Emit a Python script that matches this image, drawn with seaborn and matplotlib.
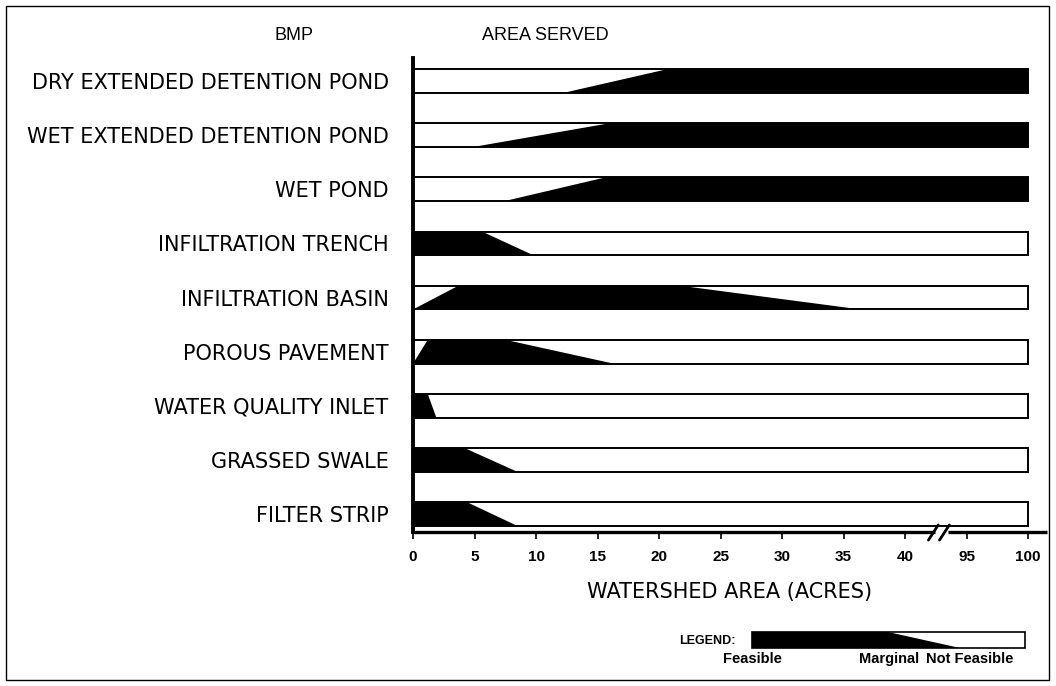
import matplotlib
matplotlib.use('Agg')
import matplotlib.pyplot as plt
from matplotlib.patches import Rectangle
import pandas as pd
import seaborn as sns

# dados (acres)
bmps = ['DRY EXTENDED DETENTION POND', 'WET EXTENDED DETENTION POND', 'WET POND',
        'INFILTRATION TRENCH', 'INFILTRATION BASIN', 'POROUS PAVEMENT',
        'WATER QUALITY INLET', 'GRASSED SWALE', 'FILTER STRIP']
# trecho preto na borda de cima e na borda de baixo de cada barra
topo_ini = [20.7, 16.1, 15.8, 0, 3.7, 1.2, 0, 0, 0]
topo_fim = [100, 100, 100, 5.6, 21.7, 7.5, 1.2, 4.2, 4.4]
base_ini = [12.2, 4.9, 7.5, 0, 0, 0, 0, 0, 0]
base_fim = [100, 100, 100, 9.8, 36.4, 16.3, 1.9, 8.5, 8.5]
area_max = 100
ticks_acres = [0, 5, 10, 15, 20, 25, 30, 35, 40, 95, 100]
legenda_rotulos = ['Feasible', 'Marginal', 'Not Feasible']
legenda_topo = 0.498
legenda_base = 0.762

sns.set_style('white')
plt.rcParams['font.family'] = ['Liberation Sans', 'DejaVu Sans']
plt.rcParams['text.color'] = 'black'
plt.rcParams['axes.labelcolor'] = 'black'


def escala(a):
    # eixo quebrado entre 40 e 95
    return a if a <= 42.5 else a - 50


meia = 0.22
fig = plt.figure(figsize=(10.56, 6.86), dpi=100)
ax = fig.add_axes([413 / 1056, 1 - 532 / 686, 633.5 / 1056, 474 / 686])

df = pd.DataFrame({'bmp': bmps, 'area': [escala(area_max)] * len(bmps)})
sns.barplot(data=df, x='area', y='bmp', orient='h', color='white', edgecolor='black',
            linewidth=1.4, width=2 * meia, ax=ax)

for i in range(len(bmps)):
    xs = [escala(topo_ini[i]), escala(topo_fim[i]), escala(base_fim[i]), escala(base_ini[i])]
    ys = [i - meia, i - meia, i + meia, i + meia]
    ax.fill(xs, ys, color='black', lw=0, zorder=3)

y_eixo = 8.33
ax.set_xlim(0, 51.5)
ax.set_ylim(y_eixo, -0.425)
for lado in ['top', 'right', 'bottom']:
    ax.spines[lado].set_visible(False)
ax.spines['left'].set_linewidth(2.8)
ax.spines['left'].set_color('black')

# linha do eixo x com quebra
ax.plot([0, 42.4], [y_eixo, y_eixo], color='black', lw=2.4, clip_on=False, solid_capstyle='butt')
ax.plot([43.5, 51.5], [y_eixo, y_eixo], color='black', lw=2.4, clip_on=False, solid_capstyle='butt')
ax.plot([41.9, 42.7], [y_eixo + 0.15, y_eixo - 0.13], color='black', lw=2, clip_on=False)
ax.plot([42.8, 43.6], [y_eixo + 0.15, y_eixo - 0.13], color='black', lw=2, clip_on=False)

ax.set_xticks([escala(t) for t in ticks_acres])
ax.set_xticklabels([str(t) for t in ticks_acres], fontsize=11, fontweight='bold')
ax.tick_params(axis='x', bottom=True, direction='out', length=5, width=1.2, pad=8, colors='black')
ax.tick_params(axis='y', left=False, pad=14, colors='black')
for rot in ax.get_yticklabels():
    rot.set_fontfamily(['DejaVu Sans'])
    rot.set_fontsize(15)
ax.set_ylabel('')
ax.set_xlabel('WATERSHED AREA (ACRES)', fontsize=15, family=['DejaVu Sans'], labelpad=13)

fig.text(294 / 1056, 1 - 35 / 686, 'BMP', ha='center', va='center', fontsize=13)
fig.text(482 / 1056, 1 - 35 / 686, 'AREA SERVED', ha='left', va='center', fontsize=13)

# legenda
ax_leg = fig.add_axes([752 / 1056, 1 - 648 / 686, 273 / 1056, 16 / 686])
ax_leg.set_xlim(0, 1)
ax_leg.set_ylim(1, 0)
ax_leg.axis('off')
ax_leg.fill([0, legenda_topo, legenda_base, 0], [0, 0, 1, 1], color='black', lw=0)
ax_leg.add_patch(Rectangle((0, 0), 1, 1, fill=False, lw=1.2, edgecolor='black', clip_on=False))
fig.text(736 / 1056, 1 - 641 / 686, 'LEGEND:', ha='right', va='center', fontsize=9, fontweight='bold')
for rotulo, xc in zip(legenda_rotulos, [752, 889, 970]):
    fig.text(xc / 1056, 1 - 659 / 686, rotulo, ha='center', va='center', fontsize=10.5, fontweight='bold')

fig.patches.append(Rectangle((6 / 1056, 6 / 686), 1043 / 1056, 674 / 686, transform=fig.transFigure,
                             fill=False, edgecolor='black', lw=1))

fig.savefig('out.png', dpi=100)
